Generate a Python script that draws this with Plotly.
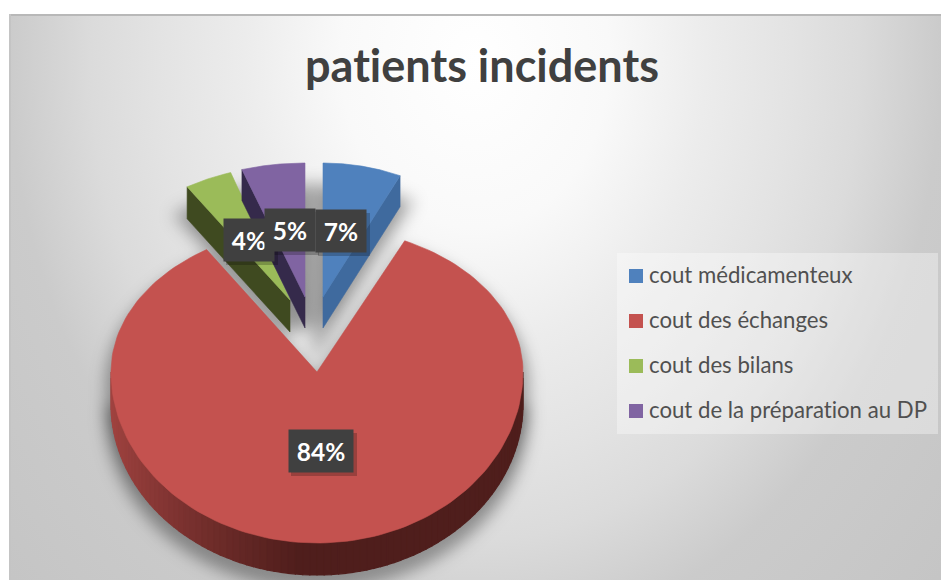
import base64
import numpy as np
import plotly.graph_objects as go

categories = ["cout médicamenteux", "cout des échanges", "cout des bilans", "cout de la préparation au DP"]
percent_values = [7, 84, 4, 5]
top_colors = ["#4f81bd", "#c4524f", "#9bbb59", "#8064a2"]
side_colors = ["#3f6a9e", "#4f1e1c", "#3f4a20", "#352a4b"]

W, H = 941, 580
# pie geometry (pixel-scaled axes)
CENTER = {"cout médicamenteux": (323, 297), "cout des échanges": (317, 372),
          "cout des bilans": (290, 300), "cout de la préparation au DP": (305, 297)}
RADII = {"cout médicamenteux": (181, 134, 134), "cout des échanges": (206, 145, 171),
         "cout des bilans": (192, 134, 134), "cout de la préparation au DP": (204, 134, 134)}
DEPTH = {"cout médicamenteux": 31, "cout des échanges": 32, "cout des bilans": 32, "cout de la préparation au DP": 31}
LABEL_POS = [(341, 231, 50, 42), (321, 451, 64, 42), (249, 240, 50, 42), (290, 230, 50, 42)]
LEGEND_Y = [276, 321, 366, 411]


def arc(name, t1, t2, n=160):
    cx, cy = CENTER[name]
    a, bb, bf = RADII[name]
    t = np.radians(np.linspace(t1, t2, n))
    u, v = np.sin(t), np.cos(t)
    return cx + a * u, cy - np.where(v > 0, bb, bf) * v


# angular spans from the values (clockwise from 12 o'clock)
edges = np.cumsum([0] + percent_values) * 360.0 / sum(percent_values)
spans = {c: (edges[i], edges[i + 1]) for i, c in enumerate(categories)}


def wedge(name, dy=0):
    x, y = arc(name, *spans[name])
    cx, cy = CENTER[name]
    return np.r_[cx, x, cx], np.r_[cy, y, cy] + dy


def pts(x, y):
    return " ".join(f"{a:.1f},{b:.1f}" for a, b in zip(x, y))


shadow_polys = ""
for c in categories:
    big = c == "cout des échanges"
    x, y = wedge(c, 14 if big else 30)
    sw = 12 if big else 20
    shadow_polys += f'<polygon points="{pts(x, y)}" stroke-width="{sw}"/>'
# rim footprint of the big slice
rx, ry = arc("cout des échanges", 90, 270)
shadow_polys += f'<polygon points="{pts(rx, ry + 40)}" stroke-width="14"/>'

stops = [(0, "ffffff"), (.28, "f9f9f9"), (.48, "ececec"), (.66, "e3e3e3"), (.8, "dbdbdb"), (.97, "cbcbcb")]
svg = f'''<svg xmlns="http://www.w3.org/2000/svg" width="{W}" height="{H}" viewBox="0 0 {W} {H}">
<defs>
<radialGradient id="g" gradientUnits="userSpaceOnUse" cx="0" cy="0" r="1"
 gradientTransform="translate(475 60) scale(648 810)">
{"".join(f'<stop offset="{o/1.35:.3f}" stop-color="#{c}"/>' for o, c in stops)}<stop offset="1" stop-color="#c4c4c4"/>
</radialGradient>
<filter id="b" x="-20%" y="-20%" width="140%" height="140%"><feGaussianBlur stdDeviation="8"/></filter>
<clipPath id="c"><rect x="9" y="14" width="{W-9}" height="{H-14}"/></clipPath>
</defs>
<rect width="{W}" height="{H}" fill="#ffffff"/>
<g clip-path="url(#c)">
<rect x="9" y="14" width="{W-9}" height="{H-14}" fill="url(#g)"/>
<rect x="9" y="14" width="{W-9}" height="2" fill="#b8b8b8"/>
<rect x="9" y="14" width="2" height="{H-14}" fill="#c4c4c4"/>
<g filter="url(#b)" fill="#000" stroke="#000" fill-opacity="0.26" stroke-opacity="0.26">{shadow_polys}</g>
</g></svg>'''
bg_uri = "data:image/svg+xml;base64," + base64.b64encode(svg.encode()).decode()

fig = go.Figure()


def add_poly(x, y, color, lw=0.6):
    fig.add_trace(go.Scatter(x=x, y=y, mode="lines", fill="toself", fillcolor=color,
                             line=dict(color=color, width=lw), hoverinfo="skip", showlegend=False))


# radial side faces of the exploded slices, then their top faces
for c, edge_angle in (("cout des bilans", spans["cout des bilans"][0]),
                      ("cout de la préparation au DP", spans["cout de la préparation au DP"][0]),
                      ("cout médicamenteux", spans["cout médicamenteux"][1])):
    i = categories.index(c)
    ex, ey = arc(c, edge_angle, edge_angle, 1)
    cx, cy = CENTER[c]
    d = DEPTH[c]
    add_poly([cx, ex[0], ex[0], cx, cx], [cy, ey[0], ey[0] + d, cy + d, cy], side_colors[i])
    add_poly(*wedge(c), top_colors[i])

# red rim: shaded strips, light at the left to dark beyond the front
c = categories[1]
d = DEPTH[c]
light, dark = np.array([0xa2, 0x44, 0x41]), np.array([0x4f, 0x1e, 0x1c])
steps = np.linspace(270, 90, 91)
for t1, t2 in zip(steps[:-1], steps[1:]):
    x, y = arc(c, t1, t2, 6)
    f = np.clip((x.mean() - 111) / 190, 0, 1) ** 0.8
    col = light + (dark - light) * f
    add_poly(np.r_[x, x[::-1], x[0]], np.r_[y, y[::-1] + d, y[0]],
             "rgb(%d,%d,%d)" % tuple(col), lw=1.2)
add_poly(*wedge(c), top_colors[1])

# legend keys and labels
fig.add_trace(go.Scatter(x=[636] * 4, y=LEGEND_Y, mode="markers",
                         marker=dict(symbol="square", size=14, color=top_colors),
                         hoverinfo="skip", showlegend=False))
fig.add_trace(go.Scatter(x=[649] * 4, y=[v + 1 for v in LEGEND_Y], mode="text", text=categories,
                         textposition="middle right",
                         textfont=dict(family="Lato, sans-serif", size=22.2, color="#505050"),
                         hoverinfo="skip", showlegend=False))

shapes = [dict(type="rect", xref="x", yref="y", x0=617, x1=938, y0=253, y1=434, layer="between",
               fillcolor="rgba(255,255,255,0.35)", line=dict(width=0))]
annotations = []
for (lx, ly, lw, lh), v in zip(LABEL_POS, percent_values):
    shapes.append(dict(type="rect", xref="x", yref="y", x0=lx - lw / 2 + 2, x1=lx + lw / 2 + 4,
                       y0=ly - lh / 2 + 3, y1=ly + lh / 2 + 4, layer="above",
                       fillcolor="rgba(0,0,0,0.22)", line=dict(width=0)))
    annotations.append(dict(x=lx, y=ly, xref="x", yref="y", text=f"<b>{v}%</b>", showarrow=False,
                            width=lw, height=lh, borderpad=0, bgcolor="#404040", valign="middle",
                            font=dict(family="Lato, sans-serif", size=24.5, color="#ffffff")))

fig.update_layout(
    width=W, height=H, margin=dict(l=0, r=0, t=0, b=0), showlegend=False,
    paper_bgcolor="#ffffff", plot_bgcolor="rgba(0,0,0,0)",
    xaxis=dict(range=[0, W], visible=False, fixedrange=True),
    yaxis=dict(range=[H, 0], visible=False, fixedrange=True),
    title=dict(text="<b>patients incidents</b>", x=482 / W, xanchor="center", y=1 - 66 / H, yanchor="middle",
               font=dict(family="Lato, sans-serif", size=45, color="#404040")),
    images=[dict(source=bg_uri, xref="x", yref="y", x=0, y=0, sizex=W, sizey=H, sizing="stretch",
                 layer="below", xanchor="left", yanchor="top")],
    shapes=shapes, annotations=annotations,
)
fig.write_html("out.html", config=dict(displayModeBar=False),
               post_script="document.body.style.margin='0';document.body.style.overflow='hidden';"
                           "var s=document.createElement('style');s.textContent='text{font-variant-ligatures:none !important}';"
                           "document.head.appendChild(s);")
